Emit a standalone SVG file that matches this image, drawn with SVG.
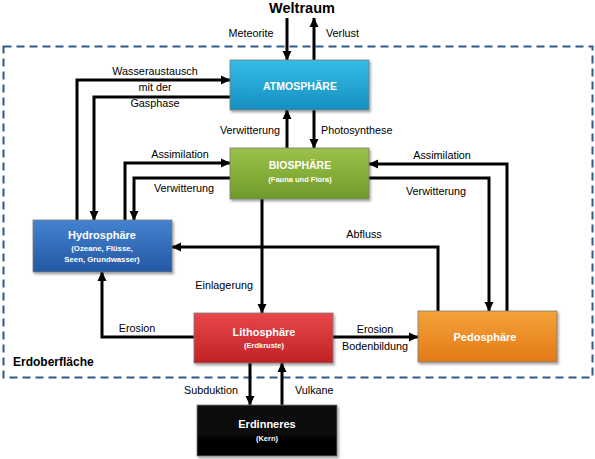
<svg xmlns="http://www.w3.org/2000/svg" width="595" height="459" viewBox="0 0 595 459">
<style>
text{font-family:"Liberation Sans",Arial,sans-serif;}
.lbl{font-size:10.8px;fill:#000;}
.ttl{font-size:10.5px;font-weight:bold;fill:#fff;text-anchor:middle;}
.sub{font-size:7.5px;font-weight:bold;fill:#fff;text-anchor:middle;}
.con{fill:none;stroke:#000;stroke-width:3;}
.box{stroke:#7a7a7a;stroke-width:0.8;filter:url(#sh);}
</style>
<defs>
<marker id="ah" markerUnits="userSpaceOnUse" markerWidth="10" markerHeight="10" refX="9" refY="5" orient="auto">
<path d="M0,0.5 L9.5,5 L0,9.5 Z" fill="#000"/>
</marker>
<filter id="sh" x="-10%" y="-10%" width="125%" height="130%">
<feDropShadow dx="1.5" dy="2" stdDeviation="1.2" flood-color="#000" flood-opacity="0.35"/>
</filter>
<linearGradient id="gA" x1="0" y1="0" x2="0" y2="1"><stop offset="0" stop-color="#35bde6"/><stop offset="1" stop-color="#168fc0"/></linearGradient>
<linearGradient id="gB" x1="0" y1="0" x2="0" y2="1"><stop offset="0" stop-color="#9cc24a"/><stop offset="1" stop-color="#6f9a2a"/></linearGradient>
<linearGradient id="gH" x1="0" y1="0" x2="0" y2="1"><stop offset="0" stop-color="#4482cf"/><stop offset="1" stop-color="#2458a3"/></linearGradient>
<linearGradient id="gL" x1="0" y1="0" x2="0" y2="1"><stop offset="0" stop-color="#e8474a"/><stop offset="1" stop-color="#c02226"/></linearGradient>
<linearGradient id="gP" x1="0" y1="0" x2="0" y2="1"><stop offset="0" stop-color="#f5a23a"/><stop offset="1" stop-color="#e27a16"/></linearGradient>
<linearGradient id="gE" x1="0" y1="0" x2="0" y2="1"><stop offset="0" stop-color="#111"/><stop offset="1" stop-color="#000"/></linearGradient>
</defs>
<rect width="595" height="459" fill="#fff"/>

<rect x="3.5" y="46.5" width="589" height="331" fill="none" stroke="#2d5b8e" stroke-width="2" stroke-dasharray="8,5"/>
<text x="13" y="366" style="font-size:12px;font-weight:bold">Erdoberfläche</text>
<text x="302" y="13" text-anchor="middle" style="font-size:14.5px;font-weight:bold">Weltraum</text>

<g id="connectors">
<path class="con" marker-end="url(#ah)" d="M287,18 V60"/>
<path class="con" marker-end="url(#ah)" d="M314,60 V18"/>
<path class="con" marker-end="url(#ah)" d="M77,220 V80 H230"/>
<path class="con" marker-end="url(#ah)" d="M230,97 H94 V220"/>
<path class="con" marker-end="url(#ah)" d="M287,148 V110"/>
<path class="con" marker-end="url(#ah)" d="M314,110 V148"/>
<path class="con" marker-end="url(#ah)" d="M125,220 V163 H230"/>
<path class="con" marker-end="url(#ah)" d="M230,178 H134 V220"/>
<path class="con" marker-end="url(#ah)" d="M507,311 V164 H369"/>
<path class="con" marker-end="url(#ah)" d="M369,178 H489 V311"/>
<path class="con" marker-end="url(#ah)" d="M438,311 V247 H172"/>
<path class="con" marker-end="url(#ah)" d="M262,199 V313"/>
<path class="con" marker-end="url(#ah)" d="M194,337 H102 V272"/>
<path class="con" marker-end="url(#ah)" d="M333,337 H418"/>
<path class="con" marker-end="url(#ah)" d="M250,363 V405"/>
<path class="con" marker-end="url(#ah)" d="M282,405 V363"/>
<text class="lbl" x="251" y="37" text-anchor="middle">Meteorite</text>
<text class="lbl" x="326" y="37">Verlust</text>
<text class="lbl" x="155" y="75" text-anchor="middle">Wasseraustausch</text>
<text class="lbl" x="155" y="91" text-anchor="middle">mit der</text>
<text class="lbl" x="155" y="107" text-anchor="middle">Gasphase</text>
<text class="lbl" x="280" y="134" text-anchor="end">Verwitterung</text>
<text class="lbl" x="321" y="134">Photosynthese</text>
<text class="lbl" x="180" y="158" text-anchor="middle">Assimilation</text>
<text class="lbl" x="184" y="192" text-anchor="middle">Verwitterung</text>
<text class="lbl" x="442" y="159" text-anchor="middle">Assimilation</text>
<text class="lbl" x="436" y="195" text-anchor="middle">Verwitterung</text>
<text class="lbl" x="364" y="238" text-anchor="middle">Abfluss</text>
<text class="lbl" x="253" y="289" text-anchor="end">Einlagerung</text>
<text class="lbl" x="137" y="332" text-anchor="middle">Erosion</text>
<text class="lbl" x="375" y="333" text-anchor="middle">Erosion</text>
<text class="lbl" x="375" y="350" text-anchor="middle">Bodenbildung</text>
<text class="lbl" x="238" y="394" text-anchor="end">Subduktion</text>
<text class="lbl" x="295" y="394">Vulkane</text>
</g>

<g id="atmosphaere">
<rect class="box" x="230" y="60" width="139" height="50" fill="url(#gA)"/>
<text class="ttl" x="300" y="90">ATMOSPHÄRE</text>
</g>
<g id="biosphaere">
<rect class="box" x="230" y="148" width="139" height="51" fill="url(#gB)"/>
<text class="ttl" x="300" y="169">BIOSPHÄRE</text>
<text class="sub" x="300" y="182">(Fauna und Flora)</text>
</g>
<g id="hydrosphaere">
<rect class="box" x="33" y="220" width="139" height="52" fill="url(#gH)"/>
<text class="ttl" x="102" y="239" style="font-size:11px">Hydrosphäre</text>
<text class="sub" x="102" y="251" style="font-size:7.8px">(Ozeane, Flüsse,</text>
<text class="sub" x="102" y="262" style="font-size:7.8px">Seen, Grundwasser)</text>
</g>
<g id="lithosphaere">
<rect class="box" x="194" y="313" width="139" height="50" fill="url(#gL)"/>
<text class="ttl" x="264" y="336" style="font-size:11px">Lithosphäre</text>
<text class="sub" x="264" y="348">(Erdkruste)</text>
</g>
<g id="pedosphaere">
<rect class="box" x="418" y="311" width="139" height="51" fill="url(#gP)"/>
<text class="ttl" x="485" y="341" style="font-size:11px">Pedosphäre</text>
</g>
<g id="erdinneres">
<rect class="box" x="197" y="405" width="140" height="51" fill="url(#gE)"/>
<text class="ttl" x="267" y="428" style="font-size:11px">Erdinneres</text>
<text class="sub" x="267" y="441">(Kern)</text>
</g>
</svg>
